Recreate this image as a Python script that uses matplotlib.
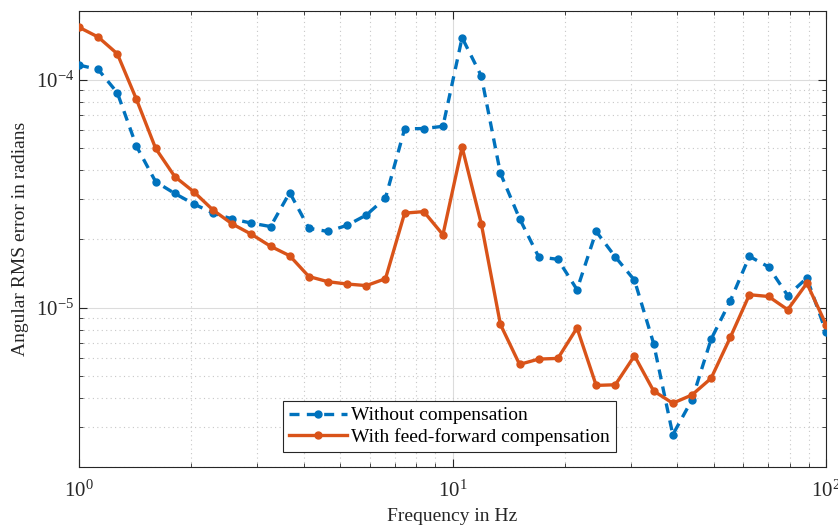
import numpy as np
import matplotlib
matplotlib.use("Agg")
import matplotlib.pyplot as plt
from matplotlib.ticker import LogLocator, NullFormatter

plt.rcParams['font.family'] = ['Liberation Serif', 'DejaVu Serif']
plt.rcParams['mathtext.fontset'] = 'stix'

# 40 log-spaced frequencies from 1 Hz to 100 Hz
freq = np.logspace(0, 2, 40)

without_comp = [
    1.16e-4, 1.11e-4, 8.77e-5, 5.11e-5, 3.57e-5, 3.17e-5, 2.85e-5, 2.60e-5, 2.45e-5, 2.35e-5,
    2.27e-5, 3.20e-5, 2.23e-5, 2.16e-5, 2.30e-5, 2.55e-5, 3.03e-5, 6.09e-5, 6.11e-5, 6.25e-5,
    1.53e-4, 1.04e-4, 3.89e-5, 2.46e-5, 1.67e-5, 1.63e-5, 1.20e-5, 2.16e-5, 1.67e-5, 1.32e-5,
    6.96e-6, 2.77e-6, 3.94e-6, 7.27e-6, 1.07e-5, 1.68e-5, 1.51e-5, 1.13e-5, 1.35e-5, 7.83e-6,
]
with_ff = [
    1.70e-4, 1.54e-4, 1.30e-4, 8.20e-5, 5.00e-5, 3.76e-5, 3.22e-5, 2.68e-5, 2.33e-5, 2.10e-5,
    1.86e-5, 1.69e-5, 1.37e-5, 1.30e-5, 1.27e-5, 1.25e-5, 1.34e-5, 2.60e-5, 2.64e-5, 2.09e-5,
    5.06e-5, 2.34e-5, 8.45e-6, 5.64e-6, 5.95e-6, 5.99e-6, 8.15e-6, 4.56e-6, 4.59e-6, 6.15e-6,
    4.31e-6, 3.81e-6, 4.14e-6, 4.90e-6, 7.40e-6, 1.14e-5, 1.12e-5, 9.80e-6, 1.28e-5, 8.43e-6,
]

blue = '#0072BD'
orange = '#D95319'

fig = plt.figure(figsize=(8.38, 5.30), dpi=100)
ax = fig.add_axes([0.0943, 0.1189, 0.8914, 0.8600])

ax.loglog(freq, without_comp, '--', color=blue, lw=2.4, marker='o', ms=5,
          dashes=(3, 2.2), label='Without compensation', zorder=3)
ax.loglog(freq, with_ff, '-', color=orange, lw=2.4, marker='o', ms=5,
          label='With feed-forward compensation', zorder=4)

ax.set_xlim(1, 100)
ax.set_ylim(2e-6, 2e-4)

ax.xaxis.set_minor_locator(LogLocator(base=10, subs=np.arange(2, 10)))
ax.yaxis.set_minor_locator(LogLocator(base=10, subs=np.arange(2, 10)))
ax.xaxis.set_minor_formatter(NullFormatter())
ax.yaxis.set_minor_formatter(NullFormatter())

ax.grid(True, which='major', color='#dcdcdc', lw=0.8, ls='-')
ax.grid(True, which='minor', color='#c8c8c8', lw=0.8, ls=(0, (1, 3)))

ax.tick_params(which='both', direction='in', top=True, right=True, colors='#262626',
               labelsize=15)
ax.tick_params(which='major', length=6, width=0.8)
ax.tick_params(which='minor', length=3, width=0.6)
ax.tick_params(axis='x', pad=10)
for s in ax.spines.values():
    s.set_color('#262626')
    s.set_linewidth(0.8)

ax.set_xlabel('Frequency in Hz', fontsize=14, color='#262626', labelpad=4)
ax.set_ylabel('Angular RMS error in radians', fontsize=14, color='#262626', labelpad=5)

leg = ax.legend(loc='lower left', bbox_to_anchor=(0.273, 0.033), fontsize=14,
                fancybox=False, edgecolor='#262626', framealpha=1, handlelength=3.0,
                borderpad=0.3, labelspacing=0.2, handletextpad=0.2, borderaxespad=0)
leg.get_frame().set_linewidth(0.8)

fig.savefig('out.png', dpi=100)
